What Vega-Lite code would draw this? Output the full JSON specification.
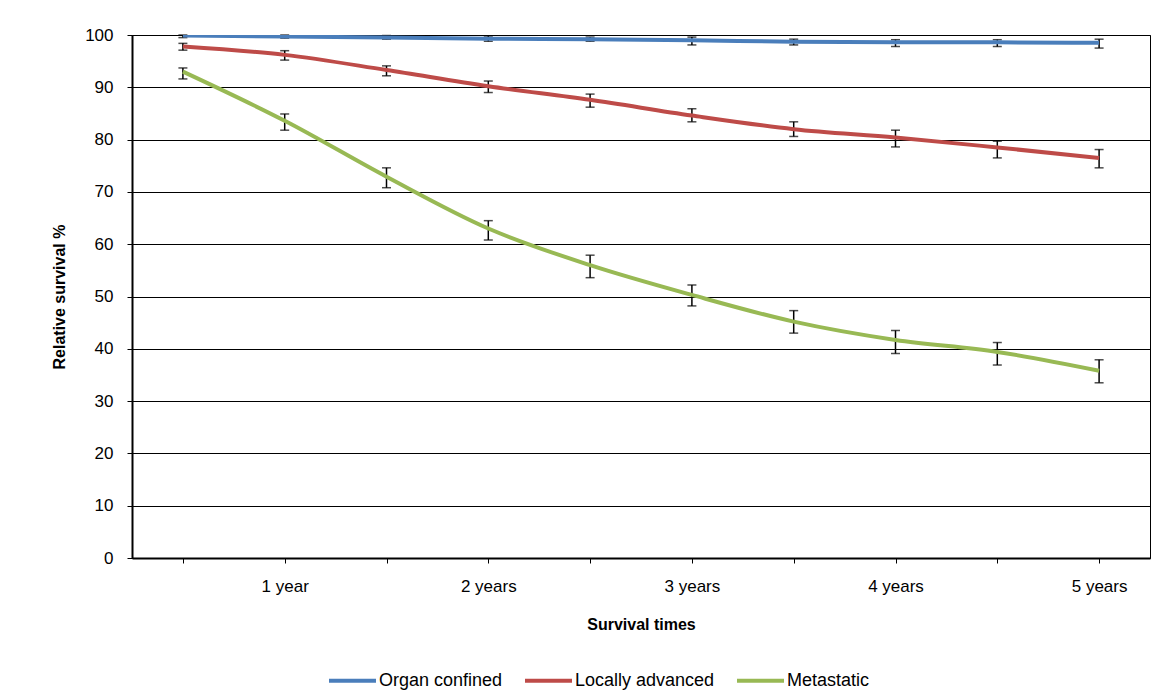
{
  "$schema": "https://vega.github.io/schema/vega-lite/v6.json",
  "width": 1018,
  "height": 523,
  "autosize": "none",
  "padding": {"left": 132, "top": 35, "right": 15, "bottom": 142},
  "background": "white",
  "config": {
    "font": "Liberation Sans",
    "view": {"stroke": "black", "strokeWidth": 1},
    "axis": {
      "labelFont": "Liberation Sans",
      "titleFont": "Liberation Sans",
      "labelColor": "black",
      "titleColor": "black",
      "domainColor": "black",
      "domainWidth": 2,
      "tickColor": "black",
      "tickWidth": 1,
      "tickSize": 5,
      "labelFontSize": 17,
      "titleFontSize": 16,
      "titleFontWeight": "bold",
      "gridColor": "black",
      "gridWidth": 1,
      "gridOpacity": 1
    },
    "legend": {
      "labelFont": "Liberation Sans",
      "labelFontSize": 18,
      "labelColor": "black"
    }
  },
  "data": {
    "values": [
      {"t": "0.5 year", "series": "Organ confined", "v": 99.9, "lo": 99.5, "hi": 100.0},
      {"t": "1 year", "series": "Organ confined", "v": 99.7, "lo": 99.4, "hi": 100.0},
      {"t": "1.5 years", "series": "Organ confined", "v": 99.5, "lo": 99.2, "hi": 99.9},
      {"t": "2 years", "series": "Organ confined", "v": 99.3, "lo": 98.8, "hi": 99.8},
      {"t": "2.5 years", "series": "Organ confined", "v": 99.2, "lo": 98.8, "hi": 99.6},
      {"t": "3 years", "series": "Organ confined", "v": 99.0, "lo": 98.1, "hi": 99.6},
      {"t": "3.5 years", "series": "Organ confined", "v": 98.7, "lo": 98.1, "hi": 99.2},
      {"t": "4 years", "series": "Organ confined", "v": 98.6, "lo": 97.8, "hi": 99.1},
      {"t": "4.5 years", "series": "Organ confined", "v": 98.6, "lo": 97.8, "hi": 99.1},
      {"t": "5 years", "series": "Organ confined", "v": 98.5, "lo": 97.5, "hi": 99.2},
      {"t": "0.5 year", "series": "Locally advanced", "v": 97.8, "lo": 97.1, "hi": 98.4},
      {"t": "1 year", "series": "Locally advanced", "v": 96.2, "lo": 95.2, "hi": 97.0},
      {"t": "1.5 years", "series": "Locally advanced", "v": 93.3, "lo": 92.2, "hi": 94.1},
      {"t": "2 years", "series": "Locally advanced", "v": 90.2, "lo": 89.0, "hi": 91.2},
      {"t": "2.5 years", "series": "Locally advanced", "v": 87.6, "lo": 86.2, "hi": 88.7},
      {"t": "3 years", "series": "Locally advanced", "v": 84.6, "lo": 83.4, "hi": 85.9},
      {"t": "3.5 years", "series": "Locally advanced", "v": 82.0, "lo": 80.6, "hi": 83.4},
      {"t": "4 years", "series": "Locally advanced", "v": 80.4, "lo": 78.6, "hi": 81.8},
      {"t": "4.5 years", "series": "Locally advanced", "v": 78.5, "lo": 76.5, "hi": 79.7},
      {"t": "5 years", "series": "Locally advanced", "v": 76.5, "lo": 74.6, "hi": 78.1},
      {"t": "0.5 year", "series": "Metastatic", "v": 93.0, "lo": 91.6, "hi": 93.7},
      {"t": "1 year", "series": "Metastatic", "v": 83.6, "lo": 81.8, "hi": 84.9},
      {"t": "1.5 years", "series": "Metastatic", "v": 72.9, "lo": 70.8, "hi": 74.6},
      {"t": "2 years", "series": "Metastatic", "v": 63.0, "lo": 60.8, "hi": 64.5},
      {"t": "2.5 years", "series": "Metastatic", "v": 56.0, "lo": 53.6, "hi": 57.9},
      {"t": "3 years", "series": "Metastatic", "v": 50.3, "lo": 48.2, "hi": 52.2},
      {"t": "3.5 years", "series": "Metastatic", "v": 45.2, "lo": 43.0, "hi": 47.3},
      {"t": "4 years", "series": "Metastatic", "v": 41.7, "lo": 39.1, "hi": 43.5},
      {"t": "4.5 years", "series": "Metastatic", "v": 39.4, "lo": 36.9, "hi": 41.2},
      {"t": "5 years", "series": "Metastatic", "v": 35.8, "lo": 33.5, "hi": 37.9}
    ]
  },
  "encoding": {
    "x": {
      "field": "t",
      "type": "ordinal",
      "sort": ["0.5 year", "1 year", "1.5 years", "2 years", "2.5 years", "3 years", "3.5 years", "4 years", "4.5 years", "5 years"],
      "scale": {"type": "point", "padding": 0.5},
      "axis": {
        "title": "Survival times",
        "labelAngle": 0,
        "labelPadding": 15,
        "titlePadding": 22,
        "grid": false,
        "labelExpr": "indexof(datum.label, '.') >= 0 ? '' : datum.label"
      }
    }
  },
  "layer": [
    {
      "mark": {"type": "rule", "color": "black", "strokeWidth": 1.5},
      "encoding": {
        "y": {"field": "lo", "type": "quantitative"},
        "y2": {"field": "hi"}
      }
    },
    {
      "mark": {"type": "tick", "color": "black", "size": 9, "thickness": 1.5},
      "encoding": {
        "y": {"field": "lo", "type": "quantitative"}
      }
    },
    {
      "mark": {"type": "tick", "color": "black", "size": 9, "thickness": 1.5},
      "encoding": {
        "y": {"field": "hi", "type": "quantitative"}
      }
    },
    {
      "mark": {"type": "line", "strokeWidth": 4, "interpolate": "monotone", "clip": true},
      "encoding": {
        "y": {
          "field": "v",
          "type": "quantitative",
          "scale": {"domain": [0, 100], "nice": false},
          "axis": {
            "title": "Relative survival %",
            "values": [0, 10, 20, 30, 40, 50, 60, 70, 80, 90, 100],
            "labelPadding": 14,
            "titlePadding": 17,
            "grid": true
          }
        },
        "color": {
          "field": "series",
          "type": "nominal",
          "scale": {
            "domain": ["Organ confined", "Locally advanced", "Metastatic"],
            "range": ["#4A7EBB", "#BE4B48", "#98B954"]
          },
          "legend": {
            "title": null,
            "orient": "none",
            "legendX": 195,
            "legendY": 620,
            "direction": "horizontal",
            "symbolType": "stroke",
            "symbolSize": 2209,
            "symbolStrokeWidth": 4,
            "labelOffset": 1,
            "columnPadding": 14
          }
        }
      }
    }
  ]
}
